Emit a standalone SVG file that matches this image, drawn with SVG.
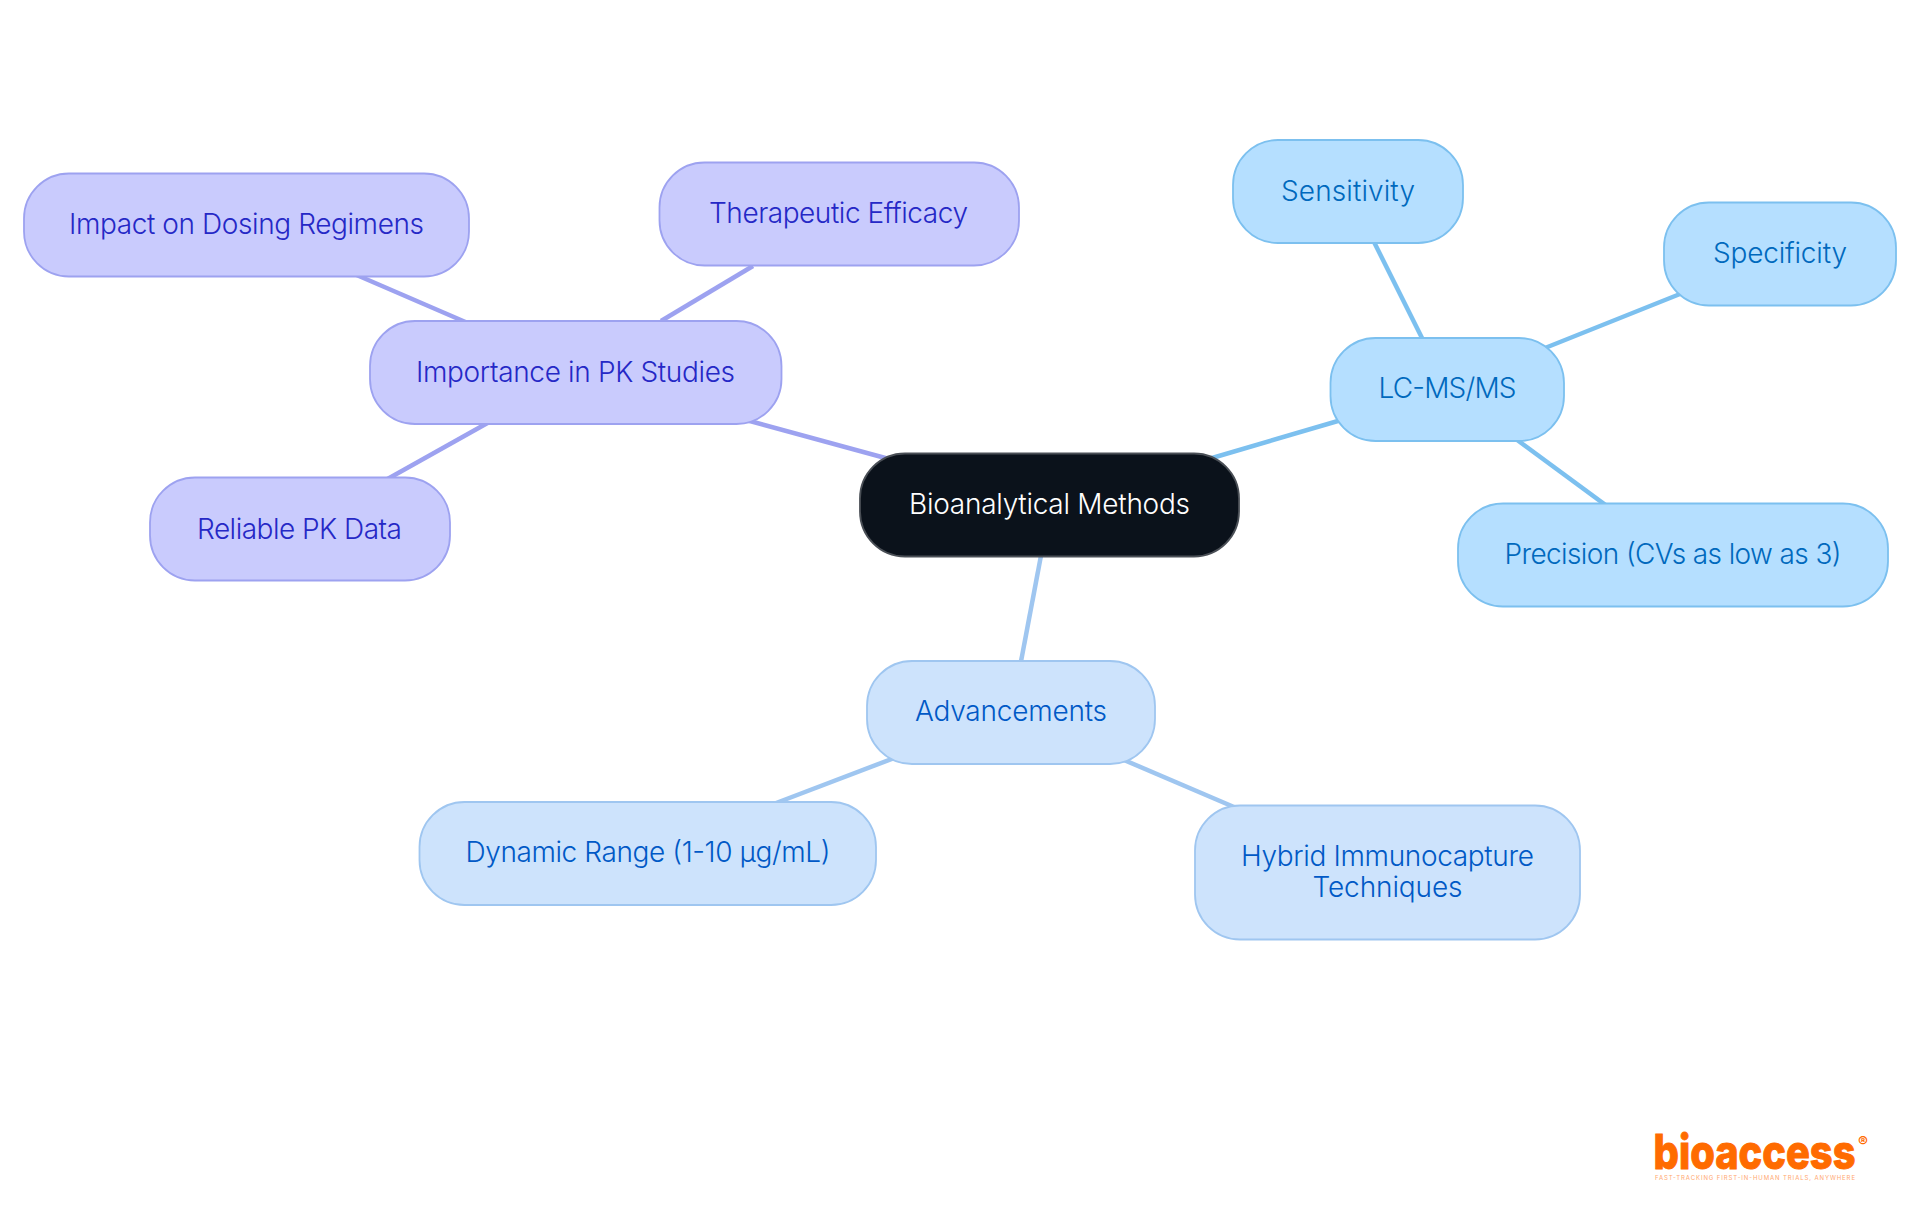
<svg xmlns="http://www.w3.org/2000/svg" width="1920" height="1215" viewBox="0 0 1920 1215">
<style>
text{font-family:"Inter","Noto Sans","Liberation Sans",sans-serif;font-size:28px;font-weight:300;text-anchor:middle}
.c{fill:none;stroke-width:4.500}
rect{stroke-width:1.800}
.p rect{fill:#c9cbfd;stroke:#9da2f0}.p text{fill:#2528c6}
.s rect{fill:#b5dfff;stroke:#7cc0ef}.s text{fill:#0069bd}
.b rect{fill:#cde3fc;stroke:#9fc6f0}.b text{fill:#0059c6}
.l{font-weight:800;font-size:48px}
</style>
<rect width="1920" height="1215" fill="#fff" style="stroke:none"/>
<g id="connectors">
<g class="c" stroke="#9da2f0">
<path d="M735 417L900 462"/><path d="M661 321L753 266"/><path d="M477 327L345 270"/><path d="M500 416L375 486"/>
</g>
<g class="c" stroke="#7cc0ef">
<path d="M1195 463L1355 416"/><path d="M1428 350L1368 230"/><path d="M1530 354L1695 288"/><path d="M1505 431L1615 512"/>
</g>
<g class="c" stroke="#9fc6f0">
<path d="M1043 545L1019 672"/><path d="M910 752L763 808"/><path d="M1110 754L1248 813"/>
</g>
</g>
<g id="n0"><rect x="860" y="453.500" width="379" height="103" rx="45" fill="#0b121b" stroke="#4a4f56"/><text x="1049.500" y="514" fill="#fff" textLength="281">Bioanalytical Methods</text></g>
<g id="n1" class="p"><rect x="370" y="321" width="411.500" height="103" rx="45"/><text x="575.500" y="382" textLength="319">Importance in PK Studies</text></g>
<g id="n2" class="p"><rect x="24" y="173.500" width="445" height="103" rx="45"/><text x="246.500" y="234" textLength="355">Impact on Dosing Regimens</text></g>
<g id="n3" class="p"><rect x="659.500" y="162.500" width="359.500" height="103" rx="45"/><text x="838.500" y="223" textLength="259">Therapeutic Efficacy</text></g>
<g id="n4" class="p"><rect x="150" y="477.500" width="300" height="103" rx="45"/><text x="299.500" y="539" textLength="205">Reliable PK Data</text></g>
<g id="n5" class="s"><rect x="1330.500" y="338" width="233.500" height="103" rx="45"/><text x="1447.500" y="398" textLength="138">LC-MS/MS</text></g>
<g id="n6" class="s"><rect x="1233" y="140" width="230" height="103" rx="45"/><text x="1348" y="201" textLength="134">Sensitivity</text></g>
<g id="n7" class="s"><rect x="1664" y="202.500" width="232" height="103" rx="45"/><text x="1780" y="263" textLength="134">Specificity</text></g>
<g id="n8" class="s"><rect x="1458" y="503.500" width="430" height="103" rx="45"/><text x="1673" y="564" textLength="337">Precision (CVs as low as 3)</text></g>
<g id="n9" class="b"><rect x="867" y="661" width="288" height="103" rx="45"/><text x="1011" y="721" textLength="192">Advancements</text></g>
<g id="n10" class="b"><rect x="419.500" y="802" width="456.500" height="103" rx="45"/><text x="648" y="862" textLength="365">Dynamic Range (1-10 µg/mL)</text></g>
<g id="n11" class="b"><rect x="1195" y="805.500" width="385" height="134" rx="45"/><text x="1387.500" y="866" textLength="293">Hybrid Immunocapture</text><text x="1387.500" y="897" textLength="150">Techniques</text></g>
<g id="logo">
<text class="l" x="1754.500" y="1169" fill="#ff6b00" stroke="#ff6b00" stroke-width="1" textLength="202" lengthAdjust="spacingAndGlyphs">bioaccess</text>
<text x="1863" y="1147" style="font-weight:700;font-size:15px" fill="#ff6b00">®</text>
<text x="1755" y="1180" style="font-size:6px;font-weight:400" fill="#ffa870" textLength="200">FAST-TRACKING FIRST-IN-HUMAN TRIALS, ANYWHERE</text>
</g>
</svg>
